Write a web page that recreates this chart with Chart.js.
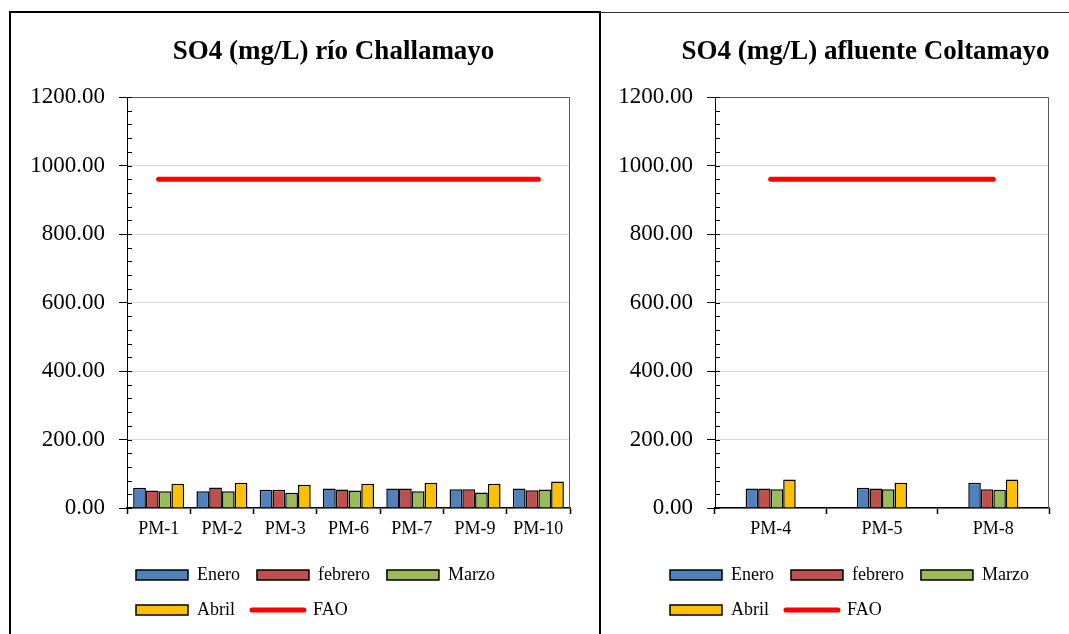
<!DOCTYPE html>
<html><head><meta charset="utf-8">
<script src="https://cdn.jsdelivr.net/npm/chart.js@4.4.1/dist/chart.umd.min.js"></script>
<style>
html,body{margin:0;padding:0;background:#fff;}
body{width:1069px;height:634px;position:relative;overflow:hidden;font-family:"Liberation Serif",serif;}
.bl{position:absolute;background:#000;}
#w1{position:absolute;left:12px;top:14px;width:586px;height:620px;}
#w2{position:absolute;left:602px;top:14px;width:467px;height:620px;}
</style></head><body>
<div class="bl" style="left:9px;top:11px;width:2px;height:623px"></div>
<div class="bl" style="left:9px;top:11px;width:592px;height:2px"></div>
<div class="bl" style="left:599px;top:11px;width:2px;height:623px"></div>
<div class="bl" style="left:600px;top:12px;width:469px;height:1px;background:#333"></div>
<div id="w1"><canvas id="c1"></canvas></div>
<div id="w2"><canvas id="c2"></canvas></div>
<script>
// ---- data ----
const seriesNames = ['Enero', 'febrero', 'Marzo', 'Abril', 'FAO'];

const categoriesChallamayo = ['PM-1', 'PM-2', 'PM-3', 'PM-6', 'PM-7', 'PM-9', 'PM-10'];
const eneroChallamayo   = [58.9, 49.1, 53.0, 56.9, 56.9, 55.0, 56.9];
const febreroChallamayo = [51.1, 59.9, 53.0, 54.0, 56.9, 55.0, 52.1];
const marzoChallamayo   = [49.1, 49.1, 44.3, 51.1, 49.1, 45.3, 54.0];
const abrilChallamayo   = [70.6, 73.5, 67.6, 70.6, 73.5, 70.6, 77.4];
const faoChallamayo     = [960, 960, 960, 960, 960, 960, 960];

const categoriesColtamayo = ['PM-4', 'PM-5', 'PM-8'];
const eneroColtamayo   = [56.9, 58.9, 73.5];
const febreroColtamayo = [56.9, 56.9, 55.0];
const marzoColtamayo   = [55.0, 55.0, 53.0];
const abrilColtamayo   = [83.2, 73.5, 83.2];
const faoColtamayo     = [960, 960, 960];

const yTickValues = [0, 200, 400, 600, 800, 1000, 1200];

const titleChallamayo = 'SO4 (mg/L) río Challamayo';
const titleColtamayo = 'SO4 (mg/L) afluente Coltamayo';

// ---- styles ----
const FONT = 'Liberation Serif';
Chart.defaults.font.family = FONT;
Chart.defaults.color = '#000';
const barColors = ['#4F81BD', '#C0504D', '#9BBB59', '#FFC000'];
const faoColor = '#FF0000';

const framePlugin = {
  id: 'framePlugin',
  beforeDatasetsDraw(chart) {
    const {ctx, chartArea: a} = chart;
    const ys = chart.scales.y;
    ctx.save();
    ctx.strokeStyle = '#595959';
    ctx.lineWidth = 1;
    ctx.beginPath();
    ctx.moveTo(a.left, Math.round(a.top) + 0.5);
    ctx.lineTo(Math.round(a.right) - 0.5, Math.round(a.top) + 0.5);
    ctx.lineTo(Math.round(a.right) - 0.5, a.bottom);
    ctx.stroke();
    // minor ticks inside the y axis
    ctx.strokeStyle = '#000';
    ctx.beginPath();
    const step = (yTickValues[1] - yTickValues[0]) / 5;
    for (let v = yTickValues[0]; v <= yTickValues[yTickValues.length - 1] + 1e-6; v += step) {
      const py = Math.round(ys.getPixelForValue(v)) + 0.5;
      ctx.moveTo(a.left, py);
      ctx.lineTo(a.left + 5, py);
    }
    ctx.stroke();
    ctx.restore();
  }
};

const placePlugin = {
  id: 'placePlugin',
  afterLayout(chart, args, opts) {
    const lg = chart.legend;
    if (lg) {
      const w = lg.right - lg.left;
      lg.left = opts.legendX - lg.options.labels.padding;
      lg.right = lg.left + w;
    }
    const tb = chart.titleBlock;
    if (tb) {
      const w = tb.right - tb.left;
      tb.left = opts.titleX - w / 2;
      tb.right = tb.left + w;
    }
  }
};

function makeChart(id, title, cats, e, f, m, ab, fao, o) {
  const values = [e, f, m, ab];
  const datasets = values.map((d, i) => ({
    label: seriesNames[i], data: d, backgroundColor: barColors[i],
    borderColor: '#000', borderWidth: 1.5, order: 2
  }));
  datasets.push({
    type: 'line', label: seriesNames[4], data: fao, borderColor: faoColor,
    backgroundColor: faoColor, borderWidth: 5, borderCapStyle: 'round',
    pointRadius: 0, order: 1
  });
  return new Chart(document.getElementById(id), {
    type: 'bar',
    data: {labels: cats, datasets},
    options: {
      responsive: true, maintainAspectRatio: false, animation: false,
      layout: {padding: {left: 0, right: o.padR, top: 0, bottom: 5}},
      datasets: {bar: {categoryPercentage: o.catPct, barPercentage: 1}},
      scales: {
        x: {
          grid: {offset: true, drawOnChartArea: false, tickLength: 6, tickColor: '#000', tickWidth: 1.5},
          border: {color: '#000', width: 1.5},
          ticks: {color: '#000', font: {family: FONT, size: 18}, padding: 4, maxRotation: 0, autoSkip: false},
          afterFit(s) { s.height = 41; }
        },
        y: {
          min: yTickValues[0], max: yTickValues[yTickValues.length - 1],
          afterBuildTicks(s) { s.ticks = yTickValues.map(v => ({value: v})); },
          ticks: {callback: v => Number(v).toFixed(2), color: '#000', font: {family: FONT, size: 23}, padding: 14},
          grid: {color: '#d9d9d9', tickColor: '#000', tickLength: 8, lineWidth: 1},
          border: {color: '#000', width: 1},
          afterFit(s) { s.width = o.yW; }
        }
      },
      plugins: {
        title: {display: true, text: title, color: '#000',
          font: {family: FONT, size: 27, weight: 'bold'}, padding: {top: 21.8, bottom: 28.8}},
        legend: {
          position: 'bottom', align: 'start', fullSize: o.legendFull,
          labels: {
            color: '#000', font: {family: FONT, size: 18}, padding: 17,
            usePointStyle: true, pointStyleWidth: 52, boxHeight: 10,
            generateLabels(chart) {
              return chart.data.datasets.map((ds, i) => {
                const isLine = ds.type === 'line';
                return {
                  text: ds.label, datasetIndex: i, hidden: false, fontColor: '#000',
                  fillStyle: isLine ? faoColor : ds.backgroundColor,
                  strokeStyle: isLine ? faoColor : '#000',
                  lineWidth: isLine ? 5 : 1.5,
                  lineCap: isLine ? 'round' : 'butt',
                  pointStyle: isLine ? 'line' : 'rect'
                };
              });
            }
          }
        },
        tooltip: {enabled: false},
        placePlugin: {legendX: o.legendX, titleX: o.titleX}
      }
    },
    plugins: [framePlugin, placePlugin]
  });
}

makeChart('c1', titleChallamayo, categoriesChallamayo,
  eneroChallamayo, febreroChallamayo, marzoChallamayo, abrilChallamayo, faoChallamayo,
  {padR: 28, yW: 115, catPct: 0.806, legendX: 124, titleX: 321.5, legendFull: false});
makeChart('c2', titleColtamayo, categoriesColtamayo,
  eneroColtamayo, febreroColtamayo, marzoColtamayo, abrilColtamayo, faoColtamayo,
  {padR: 20, yW: 113, catPct: 0.45, legendX: 68, titleX: 263.5, legendFull: true});
</script>
</body></html>
